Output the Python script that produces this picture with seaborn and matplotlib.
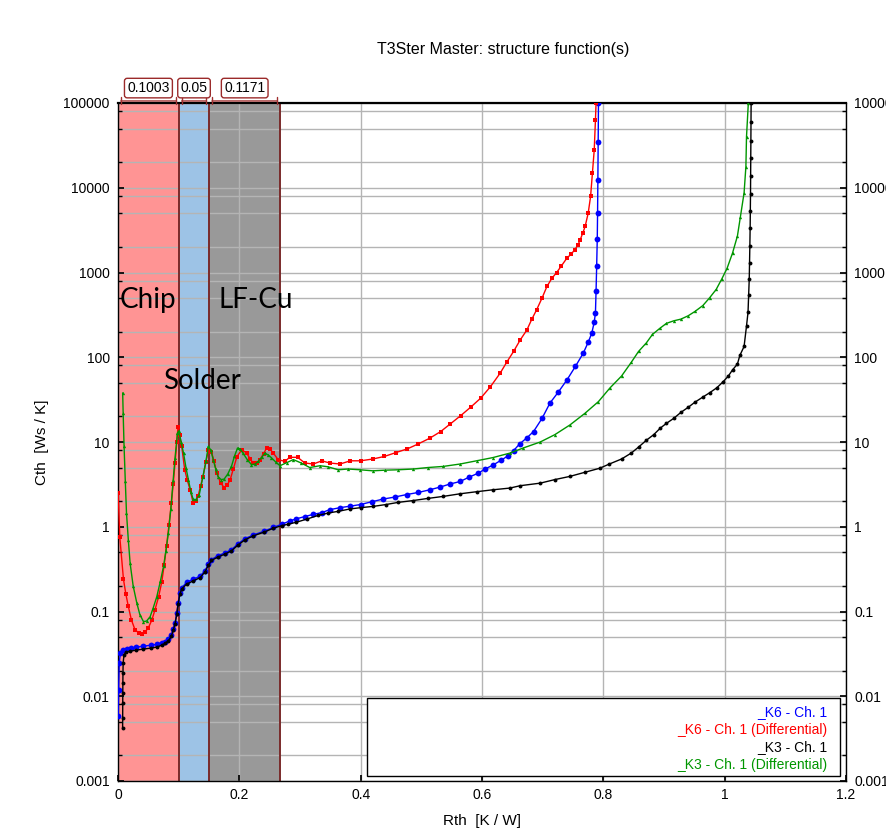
import numpy as np
import matplotlib
matplotlib.use("Agg")
import matplotlib.pyplot as plt
import matplotlib.transforms as mtransforms
from matplotlib.patches import Rectangle
import seaborn as sns

# ---- data ----
# _K6 - Ch. 1 (cumulative)
k6_x = [0.0005, 0.001, 0.002, 0.004, 0.008, 0.015, 0.022, 0.03, 0.042, 0.054, 0.064, 0.072, 0.077,
        0.083, 0.088, 0.091, 0.094, 0.097, 0.099, 0.102, 0.105, 0.113, 0.124, 0.135, 0.143, 0.149,
        0.154, 0.165, 0.176, 0.187, 0.198, 0.209, 0.223, 0.24, 0.256, 0.27, 0.283, 0.294, 0.308,
        0.322, 0.336, 0.349, 0.366, 0.383, 0.4, 0.418, 0.437, 0.456, 0.476, 0.495, 0.514, 0.531,
        0.547, 0.564, 0.579, 0.594, 0.605, 0.618, 0.631, 0.643, 0.652, 0.662, 0.674, 0.685, 0.699,
        0.712, 0.726, 0.74, 0.754, 0.767, 0.775, 0.781, 0.785, 0.787, 0.788, 0.789, 0.79, 0.7905,
        0.791, 0.7915, 0.792]
k6_y = [0.0058, 0.012, 0.025, 0.032, 0.035, 0.036, 0.037, 0.038, 0.039, 0.040, 0.041, 0.043, 0.044,
        0.047, 0.053, 0.062, 0.073, 0.097, 0.126, 0.165, 0.19, 0.22, 0.24, 0.26, 0.30, 0.36,
        0.41, 0.455, 0.49, 0.535, 0.63, 0.72, 0.80, 0.88, 0.98, 1.07, 1.17, 1.24, 1.32,
        1.40, 1.47, 1.59, 1.68, 1.75, 1.83, 1.97, 2.12, 2.24, 2.4, 2.54, 2.73, 2.94,
        3.19, 3.42, 3.86, 4.29, 4.8, 5.34, 6.06, 6.88, 7.9, 9.5, 11.2, 13.3, 19,
        28.8, 39, 54, 78, 112, 150, 193, 260, 334, 600, 1180, 2500, 5000,
        12500, 35000, 100000]

# _K6 - Ch. 1 (Differential)
k6d_x = [0.0003, 0.003, 0.009, 0.013, 0.017, 0.022, 0.028, 0.034, 0.039, 0.045, 0.05, 0.056, 0.061,
         0.067, 0.072, 0.076, 0.08, 0.084, 0.088, 0.091, 0.094, 0.097, 0.099, 0.102, 0.105, 0.11,
         0.114, 0.119, 0.124, 0.128, 0.132, 0.136, 0.14, 0.145, 0.149, 0.154, 0.158, 0.163, 0.169,
         0.175, 0.18, 0.185, 0.19, 0.196, 0.204, 0.212, 0.218, 0.223, 0.229, 0.234, 0.24, 0.245,
         0.251, 0.256, 0.264, 0.275, 0.283, 0.296, 0.308, 0.322, 0.336, 0.349, 0.366, 0.383, 0.4,
         0.42, 0.439, 0.458, 0.477, 0.495, 0.514, 0.532, 0.548, 0.565, 0.582, 0.598, 0.614, 0.63,
         0.641, 0.652, 0.663, 0.674, 0.682, 0.69, 0.699, 0.707, 0.715, 0.723, 0.731, 0.74, 0.747,
         0.753, 0.758, 0.762, 0.766, 0.77, 0.775, 0.779, 0.782, 0.785, 0.787, 0.788]
k6d_y = [2.5, 0.75, 0.24, 0.16, 0.115, 0.08, 0.061, 0.056, 0.055, 0.058, 0.064, 0.08, 0.105,
         0.15, 0.22, 0.35, 0.59, 1.05, 1.9, 3.2, 5.6, 10, 15.2, 12, 8.9, 4.7,
         3.6, 2.7, 1.9, 2.0, 2.3, 3.0, 3.9, 5.8, 8.1, 7.7, 6.0, 4.3, 3.3,
         2.9, 3.1, 3.6, 4.8, 6.7, 8.1, 7.4, 6.3, 5.6, 5.7, 6.2, 7.3, 8.5,
         8.2, 7.4, 6.2, 5.9, 6.6, 6.6, 5.65, 5.5, 6.0, 5.65, 5.5, 6.0, 6.0,
         6.3, 6.75, 7.5, 8.3, 9.5, 11.1, 13.3, 16.4, 20.5, 26, 33, 45, 65,
         88, 117, 160, 210, 280, 363, 500, 684, 850, 1000, 1200, 1480, 1650,
         1860, 2100, 2450, 2900, 3500, 5000, 7900, 14900, 28000, 63000, 100000]

# _K3 - Ch. 1 (cumulative)
k3_x = [0.0076, 0.0077, 0.0078, 0.0079, 0.008, 0.0082, 0.0085, 0.01, 0.013, 0.02, 0.03, 0.042,
        0.054, 0.064, 0.072, 0.077, 0.083, 0.088, 0.091, 0.094, 0.097, 0.099, 0.102, 0.105, 0.113,
        0.124, 0.135, 0.143, 0.149, 0.154, 0.165, 0.176, 0.187, 0.198, 0.209, 0.223, 0.24, 0.256,
        0.27, 0.28, 0.294, 0.311, 0.33, 0.346, 0.363, 0.382, 0.4, 0.421, 0.442, 0.462, 0.487,
        0.511, 0.536, 0.564, 0.591, 0.618, 0.646, 0.663, 0.696, 0.72, 0.745, 0.77, 0.794, 0.81,
        0.83, 0.846, 0.858, 0.871, 0.883, 0.894, 0.904, 0.916, 0.928, 0.94, 0.951, 0.964, 0.975,
        0.987, 0.997, 1.006, 1.013, 1.021, 1.025, 1.032, 1.036, 1.0385, 1.0395, 1.0405, 1.041,
        1.0415, 1.042, 1.0423, 1.0426, 1.0428, 1.043, 1.0432, 1.0434, 1.0436]
k3_y = [0.0042, 0.0055, 0.0083, 0.011, 0.0144, 0.019, 0.025, 0.031, 0.033, 0.034, 0.035, 0.036,
        0.037, 0.038, 0.040, 0.042, 0.045, 0.051, 0.060, 0.071, 0.094, 0.122, 0.16, 0.185, 0.21,
        0.23, 0.25, 0.29, 0.35, 0.40, 0.44, 0.475, 0.52, 0.61, 0.70, 0.78, 0.86, 0.96,
        1.03, 1.07, 1.13, 1.23, 1.36, 1.45, 1.52, 1.62, 1.68, 1.74, 1.83, 1.94, 2.04,
        2.16, 2.28, 2.45, 2.59, 2.73, 2.86, 3.05, 3.27, 3.6, 3.93, 4.4, 4.9, 5.5,
        6.3, 7.4, 8.7, 10.5, 12.2, 14.6, 16.6, 19, 22.4, 25.7, 29.5, 33.9, 38,
        43.6, 51, 60, 71, 83, 105, 134, 234, 339, 537, 830, 1290,
        2040, 3390, 5370, 8510, 13800, 22400, 35500, 60000, 100000]

# _K3 - Ch. 1 (Differential)
k3d_x = [0.0077, 0.0085, 0.01, 0.012, 0.014, 0.017, 0.02, 0.025, 0.031, 0.036, 0.042, 0.047, 0.053,
         0.058, 0.064, 0.07, 0.075, 0.079, 0.083, 0.087, 0.091, 0.094, 0.098, 0.1, 0.104, 0.108,
         0.112, 0.116, 0.12, 0.124, 0.129, 0.134, 0.14, 0.145, 0.149, 0.153, 0.157, 0.161, 0.165,
         0.17, 0.175, 0.181, 0.187, 0.192, 0.197, 0.201, 0.206, 0.213, 0.22, 0.226, 0.231, 0.237,
         0.242, 0.248, 0.253, 0.26, 0.267, 0.278, 0.289, 0.302, 0.316, 0.333, 0.346, 0.363, 0.379,
         0.399, 0.42, 0.44, 0.462, 0.487, 0.511, 0.536, 0.564, 0.591, 0.618, 0.646, 0.668, 0.696,
         0.72, 0.745, 0.77, 0.792, 0.811, 0.83, 0.846, 0.858, 0.871, 0.881, 0.893, 0.904, 0.916,
         0.928, 0.94, 0.951, 0.964, 0.975, 0.986, 0.995, 1.004, 1.013, 1.021, 1.026, 1.032, 1.035,
         1.036, 1.039]
k3d_y = [38, 22, 8.9, 3.5, 1.45, 0.7, 0.37, 0.2, 0.126, 0.092, 0.076, 0.077, 0.087,
         0.11, 0.15, 0.23, 0.34, 0.52, 0.84, 1.6, 3.6, 6.5, 12.7, 13.5, 10, 7.4,
         5.0, 3.6, 2.6, 2.1, 2.1, 2.4, 3.9, 6.0, 8.9, 8.0, 6.2, 4.8, 3.9,
         3.6, 3.65, 4.2, 5.15, 6.8, 8.5, 8.3, 7.4, 6.2, 5.4, 5.5, 5.9, 6.6,
         7.4, 7.0, 6.5, 5.8, 5.25, 5.7, 6.2, 5.65, 5.0, 5.25, 5.1, 4.7, 4.8,
         4.7, 4.57, 4.65, 4.7, 4.8, 5.0, 5.15, 5.5, 6.0, 6.55, 7.4, 8.5, 10,
         12.2, 15.9, 21.9, 30, 43.5, 60, 87, 117, 148, 186, 219, 251, 269,
         282, 309, 347, 407, 501, 631, 832, 1122, 1700, 2690, 4570, 8710, 17800,
         40000, 100000]

# regions (boundaries in K/W) and their labels
region_edges = [0.0, 0.1003, 0.1503, 0.2674]
region_widths = ["0.1003", "0.05", "0.1171"]
region_colors = ["#ff9494", "#9dc3e6", "#999999"]

y_ticks = [0.001, 0.01, 0.1, 1, 10, 100, 1000, 10000, 100000]
y_labels = ["0.001", "0.01", "0.1", "1", "10", "100", "1000", "10000", "100000"]
x_ticks = [0, 0.2, 0.4, 0.6, 0.8, 1.0, 1.2]
x_labels = ["0", "0.2", "0.4", "0.6", "0.8", "1", "1.2"]

series = [
    ("_K6 - Ch. 1", k6_x, k6_y, "#0000ff", "o", 4.2),
    ("_K6 - Ch. 1 (Differential)", k6d_x, k6d_y, "#ff0000", "s", 3.4),
    ("_K3 - Ch. 1", k3_x, k3_y, "#000000", "o", 2.8),
    ("_K3 - Ch. 1 (Differential)", k3d_x, k3d_y, "#009600", "^", 2.4),
]

# ---- style ----
sns.set_theme(style="white")
plt.rcParams['font.family'] = ['Liberation Sans', 'DejaVu Sans']
plt.rcParams['text.color'] = 'black'
plt.rcParams['axes.labelcolor'] = 'black'

fig = plt.figure(figsize=(8.86, 8.32), dpi=100)
ax = fig.add_axes([118 / 886, 1 - 781 / 832, 728 / 886, 678 / 832])
ax.set_facecolor("white")

# coloured layers
for i in range(3):
    ax.axvspan(region_edges[i], region_edges[i + 1], color=region_colors[i], zorder=0.2, lw=0)
for xe in region_edges:
    ax.axvline(xe, color="#7a2a2a", lw=1.4, zorder=0.6)

# curves
for name, xs, ys, col, mk, ms in series:
    sns.lineplot(x=xs, y=ys, ax=ax, color=col, marker=mk, markersize=ms,
                 markeredgewidth=0, linewidth=1.0, estimator=None, sort=False, zorder=3)

ax.set_yscale("log")
ax.set_xlim(0, 1.2)
ax.set_ylim(0.001, 100000)

ax.set_yticks(y_ticks)
ax.set_yticklabels(y_labels)
minor = [m * d for d in y_ticks[:-1] for m in (2, 5, 8)]
ax.set_yticks(minor, minor=True)
ax.set_yticklabels([], minor=True)
ax.set_xticks(x_ticks)
ax.set_xticklabels(x_labels)

ax.set_axisbelow(True)
ax.grid(True, which="major", axis="both", color="#b4b4b4", lw=1.0)
ax.grid(True, which="minor", axis="y", color="#b4b4b4", lw=1.0)

ax.tick_params(axis="both", which="both", direction="in", labelsize=10, colors="black",
               left=True, right=True, labelright=True, bottom=True, top=False)
ax.tick_params(axis="y", which="major", length=4, pad=6)
ax.tick_params(axis="y", which="minor", length=3)
ax.tick_params(axis="x", which="major", length=4, pad=5)
for s in ax.spines.values():
    s.set_color("black")
    s.set_linewidth(1.0)
ax.spines["top"].set_linewidth(1.6)

ax.set_xlabel("Rth  [K / W]", fontsize=11, labelpad=9)
ax.set_ylabel("Cth  [Ws / K]", fontsize=11, labelpad=10)
fig.text(0.568, 0.94, "T3Ster Master: structure function(s)", ha="center", va="center", fontsize=11.5)

# region names
ax.text(0.0035, 478, "Chip", fontsize=20, family=["Lato", "DejaVu Sans"], va="center", ha="left", zorder=4)
ax.text(0.165, 478, "LF-Cu", fontsize=20, family=["Lato", "DejaVu Sans"], va="center", ha="left", zorder=4)
ax.text(0.074, 53, "Solder", fontsize=20, family=["Lato", "DejaVu Sans"], va="center", ha="left", zorder=4)

# dimension markers above the plot
trans = mtransforms.blended_transform_factory(ax.transData, ax.transAxes)
for i in range(3):
    x0, x1 = region_edges[i], region_edges[i + 1]
    ax.annotate("", xy=(x0, 1.003), xytext=(x1, 1.003), xycoords=trans, textcoords=trans,
                arrowprops=dict(arrowstyle="|-|", color="#a03030", lw=1.0, mutation_scale=2.5),
                annotation_clip=False)
    ax.text((x0 + x1) / 2, 1.022, region_widths[i], transform=trans, ha="center", va="center",
            fontsize=10, clip_on=False,
            bbox=dict(boxstyle="round,pad=0.2", fc="white", ec="#9b2a2a", lw=1.0))

# legend box
ax.add_patch(Rectangle((0.342, 0.0074), 0.65, 0.115, transform=ax.transAxes,
                       facecolor="white", edgecolor="black", lw=1.0, zorder=5))
leg_y = [0.1018, 0.0752, 0.0501, 0.0236]
for (name, xs, ys, col, mk, ms), yy in zip(series, leg_y):
    ax.text(0.974, yy, name, transform=ax.transAxes, ha="right", va="center",
            color=col, fontsize=10, zorder=6)

fig.savefig("out.png", dpi=100)
